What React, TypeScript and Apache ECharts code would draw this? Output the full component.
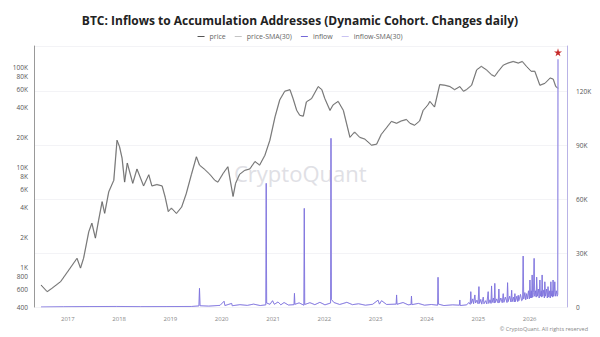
import React, { useEffect, useRef } from "react";
import * as echarts from "echarts";

const titleText = "BTC: Inflows to Accumulation Addresses (Dynamic Cohort. Changes daily)";
const legendNames = ["price", "price-SMA(30)", "inflow", "inflow-SMA(30)"];
const yearTicks = [2017, 2018, 2019, 2020, 2021, 2022, 2023, 2024, 2025, 2026];
const priceTicks = [400, 600, 800, 1000, 2000, 4000, 6000, 8000, 10000, 20000, 40000, 60000, 80000, 100000];
const inflowTicks = [0, 30000, 60000, 90000, 120000];

const priceDates = [
  "2016-06-24", "2016-08-07", "2016-09-09", "2016-11-10", "2017-01-08", "2017-03-07", "2017-04-01", "2017-04-23",
  "2017-05-30", "2017-06-21", "2017-07-16", "2017-08-08", "2017-09-02", "2017-09-20", "2017-10-19", "2017-11-24",
  "2017-12-17", "2018-01-04", "2018-01-22", "2018-02-09", "2018-02-28", "2018-04-08", "2018-05-08", "2018-06-24",
  "2018-07-31", "2018-08-22", "2018-09-27", "2018-11-03", "2018-11-25", "2018-12-17", "2019-01-08", "2019-02-13",
  "2019-03-22", "2019-04-23", "2019-05-30", "2019-07-05", "2019-07-27", "2019-09-02", "2019-10-08", "2019-11-13",
  "2019-12-05", "2020-01-12", "2020-02-14", "2020-03-22", "2020-04-09", "2020-05-08", "2020-06-13", "2020-07-19",
  "2020-08-25", "2020-09-27", "2020-11-03", "2020-12-09", "2021-01-15", "2021-02-17", "2021-03-25", "2021-05-01",
  "2021-05-23", "2021-06-18", "2021-07-10", "2021-08-04", "2021-08-26", "2021-10-02", "2021-11-18", "2021-12-14",
  "2022-01-04", "2022-02-10", "2022-03-04", "2022-04-09", "2022-05-16", "2022-07-02", "2022-08-04", "2022-09-09",
  "2022-10-16", "2022-12-03", "2023-01-08", "2023-02-10", "2023-03-18", "2023-04-23", "2023-05-30", "2023-07-02",
  "2023-08-08", "2023-09-02", "2023-10-05", "2023-11-10", "2023-12-05", "2024-01-08", "2024-01-22", "2024-02-24",
  "2024-04-01", "2024-05-08", "2024-06-13", "2024-07-16", "2024-08-22", "2024-09-17", "2024-10-08", "2024-11-14",
  "2024-12-20", "2025-01-22", "2025-02-28", "2025-04-05", "2025-04-27", "2025-05-23", "2025-06-28", "2025-07-31",
  "2025-09-06", "2025-10-12", "2025-11-10", "2025-12-09", "2026-01-12", "2026-02-07", "2026-03-15", "2026-04-20",
  "2026-05-27", "2026-06-18", "2026-07-06", "2026-07-24",
];
const priceValues = [
  664, 569, 614, 716, 938, 1227, 980, 1230,
  2266, 2757, 1953, 2951, 4523, 3459, 5672, 7397,
  18600, 16000, 12300, 7100, 11000, 6900, 9600, 6500,
  8400, 6500, 6700, 6500, 5000, 3600, 3900, 3450,
  4000, 5400, 8400, 12700, 10500, 9500, 8500, 7400,
  7100, 8700, 10100, 5100, 6900, 8500, 9300, 9600,
  11400, 10500, 13100, 18600, 32000, 47000, 57500, 59600,
  48600, 37000, 33000, 32400, 45000, 48600, 64000, 59600,
  48600, 37000, 42000, 45500, 37000, 19900, 22500, 19900,
  19100, 16600, 17000, 21300, 24700, 28700, 27500, 29000,
  30000, 27500, 26300, 29000, 37000, 42000, 45500, 40000,
  67000, 66000, 64000, 59600, 64000, 57500, 59600, 66000,
  94000, 102000, 94000, 84000, 81000, 91000, 105000, 110000,
  114000, 110000, 114000, 102000, 91000, 91000, 66000, 69000,
  78000, 76000, 64000, 61500,
];

const inflowDates = [
  "2016-06-24", "2016-12-01", "2017-06-01", "2017-12-15", "2018-06-01", "2018-12-01", "2019-06-01", "2019-07-23",
  "2019-07-27", "2019-07-31", "2019-10-01", "2019-12-20", "2020-01-18", "2020-01-24", "2020-03-12", "2020-03-16",
  "2020-05-10", "2020-07-01", "2020-08-15", "2020-10-01", "2020-11-10", "2020-11-13", "2020-11-16", "2020-12-10",
  "2020-12-28", "2021-01-10", "2021-02-05", "2021-02-25", "2021-03-20", "2021-04-20", "2021-05-30", "2021-06-02",
  "2021-06-05", "2021-07-05", "2021-08-08", "2021-08-11", "2021-08-14", "2021-09-20", "2021-10-25", "2021-11-30",
  "2022-01-05", "2022-02-14", "2022-02-17", "2022-02-20", "2022-03-10", "2022-04-20", "2022-06-10", "2022-07-20",
  "2022-09-01", "2022-10-20", "2022-12-10", "2023-01-18", "2023-01-28", "2023-02-12", "2023-03-20", "2023-05-27",
  "2023-05-30", "2023-06-02", "2023-07-15", "2023-08-20", "2023-09-10", "2023-09-13", "2023-09-16", "2023-11-01",
  "2023-12-15", "2024-02-01", "2024-03-17", "2024-03-20", "2024-03-23", "2024-05-01", "2024-07-01", "2024-08-19",
  "2024-08-22", "2024-08-25", "2024-10-10", "2024-10-25", "2024-11-04", "2024-11-08", "2024-11-12", "2024-11-22",
  "2024-11-28", "2024-12-07", "2024-12-12", "2024-12-22", "2024-12-30", "2025-01-05", "2025-01-09", "2025-01-18",
  "2025-01-25", "2025-02-05", "2025-02-10", "2025-02-22", "2025-03-02", "2025-03-12", "2025-03-16", "2025-03-25",
  "2025-04-01", "2025-04-05", "2025-04-09", "2025-04-18", "2025-04-24", "2025-04-28", "2025-05-02", "2025-05-12",
  "2025-05-22", "2025-05-27", "2025-05-31", "2025-06-10", "2025-06-20", "2025-06-27", "2025-07-02", "2025-07-12",
  "2025-07-24", "2025-07-28", "2025-08-01", "2025-08-12", "2025-08-21", "2025-08-26", "2025-08-30", "2025-09-08",
  "2025-09-14", "2025-09-18", "2025-09-22", "2025-10-02", "2025-10-08", "2025-10-12", "2025-10-16", "2025-10-28",
  "2025-11-05", "2025-11-12", "2025-11-16", "2025-11-20", "2025-11-28", "2025-12-04", "2025-12-10", "2025-12-16",
  "2025-12-24", "2025-12-30", "2026-01-03", "2026-01-08", "2026-01-13", "2026-01-16", "2026-01-19", "2026-01-23",
  "2026-01-28", "2026-02-02", "2026-02-06", "2026-02-12", "2026-02-17", "2026-02-20", "2026-02-25", "2026-03-04",
  "2026-03-10", "2026-03-15", "2026-03-19", "2026-03-25", "2026-03-28", "2026-03-31", "2026-04-04", "2026-04-12",
  "2026-04-16", "2026-04-19", "2026-04-24", "2026-05-02", "2026-05-07", "2026-05-12", "2026-05-17", "2026-05-24",
  "2026-05-28", "2026-06-01", "2026-06-05", "2026-06-10", "2026-06-14", "2026-06-17", "2026-06-21", "2026-06-25",
  "2026-06-29", "2026-07-03", "2026-07-10", "2026-07-16", "2026-07-20", "2026-07-22",
];
const inflowValues = [
  0, 150, 250, 300, 200, 250, 300, 600,
  10400, 700, 500, 900, 3200, 800, 2000, 700,
  1300, 900, 1600, 800, 1200, 68700, 2200, 1500,
  3500, 1500, 2800, 1200, 2500, 1100, 1300, 7600,
  1500, 2300, 1000, 54800, 1400, 2400, 1300, 2600,
  1200, 2200, 93700, 4200, 2500, 1400, 2600, 1300,
  1800, 1000, 1500, 3800, 1600, 3500, 1400, 1600,
  6700, 1500, 2500, 1200, 1400, 6100, 1300, 2000,
  1000, 1400, 1000, 16500, 1600, 800, 1200, 1000,
  3900, 800, 1200, 2500, 1500, 8500, 2000, 4500,
  1800, 6700, 2200, 3800, 1800, 11300, 2000, 4200,
  1600, 5500, 1800, 3500, 1700, 8500, 2000, 4000,
  2000, 11700, 2500, 5000, 2200, 13100, 2500, 4500,
  2200, 10000, 2500, 5000, 2400, 7400, 2600, 5500,
  2500, 13500, 3000, 6000, 2800, 9300, 3000, 5500,
  2800, 7400, 3000, 6000, 3000, 6500, 3500, 7000,
  3500, 4000, 28300, 4500, 8000, 4000, 7400, 4500,
  9000, 4500, 15000, 5000, 9000, 5000, 17800, 5500,
  8000, 27000, 6000, 9000, 5500, 16600, 6000, 10000,
  5000, 15000, 6000, 9000, 5500, 17800, 6000, 9500,
  5000, 14000, 6000, 10000, 5000, 11300, 5500, 9000,
  5000, 14000, 6000, 9000, 5500, 15000, 6000, 8000,
  14000, 6000, 9000, 6000, 7000, 137600,
];

const STAR = "path://M50,0 L61,35 L98,35 L68,57 L79,91 L50,70 L21,91 L32,57 L2,35 L39,35 Z";
const FONT = "Open Sans";

function fmtK(v: number): string {
  if (v >= 1000) return Math.round(v / 1000) + "K";
  return String(Math.round(v));
}

export default function App() {
  const ref = useRef<HTMLDivElement>(null);
  useEffect(() => {
    if (!ref.current) return;
    const chart = echarts.init(ref.current, null, { renderer: "svg" });
    const priceData = priceDates.map((d, i) => [Date.parse(d), Math.log10(priceValues[i])]);
    const inflowData = inflowDates.map((d, i) => [Date.parse(d), inflowValues[i]]);
    const lastIdx = inflowDates.length - 1;
    chart.setOption({
      animation: false,
      backgroundColor: "#ffffff",
      textStyle: { fontFamily: FONT },
      title: {
        text: titleText,
        left: "center",
        top: 9,
        textStyle: { fontFamily: FONT, fontSize: 12, fontWeight: "bold", color: "#222" },
      },
      legend: {
        data: legendNames,
        top: 28,
        left: "center",
        icon: "rect",
        itemWidth: 7,
        itemHeight: 1,
        itemGap: 9,
        textStyle: { fontFamily: FONT, fontSize: 7, color: "#666" },
      },
      graphic: [
        {
          type: "text",
          left: 234,
          top: 162,
          z: -1,
          style: { text: "CryptoQuant", fontFamily: FONT, fontSize: 22, fill: "#e0e0e5" },
        },
        {
          type: "text",
          right: 12,
          top: 326,
          style: { text: "© CryptoQuant. All rights reserved", fontFamily: FONT, fontSize: 5.5, fill: "#888" },
        },
      ],
      grid: { left: 34, right: 33, top: 46, bottom: 30 },
      xAxis: {
        type: "value",
        min: Date.UTC(2016, 4, 5),
        max: Date.UTC(2026, 8, 24),
        axisLine: { show: false },
        axisTick: { show: false },
        splitLine: { show: false },
        axisLabel: {
          customValues: yearTicks.map((y) => Date.UTC(y, 0, 1)),
          formatter: (v: number) => String(new Date(v).getUTCFullYear()),
          fontSize: 6,
          color: "#888",
          margin: 9,
        },
      },
      yAxis: [
        {
          type: "value",
          position: "left",
          min: Math.log10(400),
          max: Math.log10(400) + 2.61,
          axisLine: { show: true, lineStyle: { color: "#999", width: 1 } },
          axisTick: { show: false },
          splitLine: { show: false },
          axisLabel: {
            customValues: priceTicks.map((p) => Math.log10(p)),
            formatter: (v: number) => fmtK(Math.pow(10, v)),
            fontSize: 6.5,
            color: "#555",
            margin: 6,
          },
        },
        {
          type: "value",
          position: "right",
          min: 0,
          max: 145000,
          interval: 30000,
          axisLine: { show: true, lineStyle: { color: "#b9b3e6", width: 1 } },
          axisTick: { show: false },
          splitLine: { show: true, lineStyle: { color: "#f3f3f6", width: 1 } },
          axisLabel: {
            customValues: inflowTicks,
            formatter: (v: number) => fmtK(v),
            fontSize: 6.5,
            color: "#555",
            margin: 9,
          },
        },
      ],
      series: [
        {
          name: "price-SMA(30)",
          type: "line",
          yAxisIndex: 0,
          data: priceData,
          symbol: "none",
          z: 1,
          lineStyle: { color: "#d0d0d0", width: 1.5 },
          itemStyle: { color: "#c4c4c4" },
        },
        {
          name: "price",
          type: "line",
          yAxisIndex: 0,
          data: priceData,
          symbol: "none",
          z: 2,
          lineStyle: { color: "#5c5c5c", width: 0.8 },
          itemStyle: { color: "#555" },
        },
        {
          name: "inflow-SMA(30)",
          type: "line",
          yAxisIndex: 1,
          data: inflowData,
          symbol: "none",
          z: 3,
          lineStyle: { color: "#d4cff6", width: 1 },
          itemStyle: { color: "#c9c3f2" },
        },
        {
          name: "inflow",
          type: "line",
          yAxisIndex: 1,
          data: inflowData,
          symbol: "none",
          z: 4,
          lineStyle: { color: "#7a6fdc", width: 0.8 },
          itemStyle: { color: "#7468d8" },
          markPoint: {
            symbol: STAR,
            symbolSize: 8,
            symbolOffset: [0, -7],
            label: { show: false },
            itemStyle: { color: "#c62828" },
            data: [{ coord: [Date.parse(inflowDates[lastIdx]), inflowValues[lastIdx]] }],
          },
        },
      ],
    });
    return () => chart.dispose();
  }, []);
  return <div ref={ref} style={{ width: 600, height: 337, position: "absolute", left: 0, top: 0 }} />;
}
